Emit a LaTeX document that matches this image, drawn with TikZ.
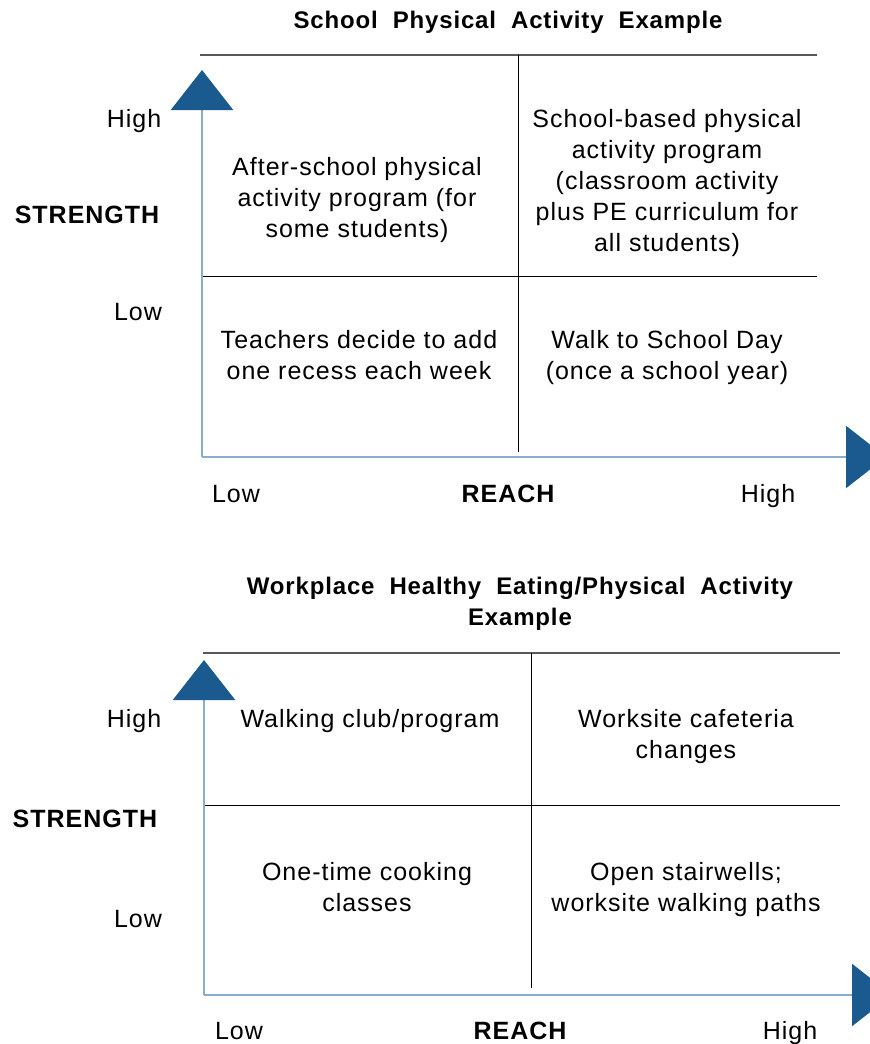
\documentclass[tikz,border=0pt]{standalone}
\usepackage{fontspec}
\setmainfont{Liberation Sans}[LetterSpace=4]
\newfontfamily\headfont{Liberation Sans}[LetterSpace=3.5,WordSpace=2.0]
\usepackage{xcolor}
\usetikzlibrary{arrows.meta}

\definecolor{axisline}{HTML}{8AAECA}
\definecolor{axishead}{HTML}{1B5A8E}

\begin{document}
\begin{tikzpicture}[x=0.5pt,y=-0.5pt,font=\fontsize{12.5}{15.5}\selectfont,
    every node/.style={inner sep=0pt,align=center}]
  \tikzstyle{axis}=[draw=axisline,line width=1.2pt,
    -{Triangle[width=31pt,length=20pt,color=axishead]}]
  \tikzstyle{grid}=[draw=black,line width=0.5pt]
  \tikzstyle{topline}=[draw=black!65,line width=1.1pt]
  \tikzstyle{title}=[font=\headfont\bfseries\fontsize{12}{15.5}\selectfont]
  \tikzstyle{axlabel}=[font=\bfseries\fontsize{12.5}{15.5}\selectfont]

  \useasboundingbox (0,0) rectangle (869,1044);

  % school chart
  \node[title] (title1) at (508,22) {School Physical Activity Example};
  \coordinate (o1) at (202,457);
  \coordinate (up1) at (202,70);
  \coordinate (right1) at (886,457);
  \draw[topline] (200,55) -- (817,55);
  \draw[grid] (202,276) -- (817,276);
  \draw[grid] (518,55) -- (518,452);
  \draw[axis] (o1) -- (up1);
  \draw[axis] (o1) -- (right1);

  \node (high1) at (134,121) {High};
  \node[axlabel] (strength1) at (87,215) {STRENGTH};
  \node (low1) at (138,312) {Low};
  \node (xlow1) at (236,494) {Low};
  \node[axlabel] (reach1) at (508,494) {REACH};
  \node (xhigh1) at (768,496) {High};

  \node (cellA) at (357,200) {After-school physical\\activity program (for\\some students)};
  \node (cellB) at (667,183) {School-based physical\\activity program\\(classroom activity\\plus PE curriculum for\\all students)};
  \node (cellC) at (359,355) {Teachers decide to add\\one recess each week};
  \node (cellD) at (667,358) {Walk to School Day\\(once a school year)};

  % workplace chart
  \node[title] (title2) at (520,604) {Workplace Healthy Eating/Physical Activity\\Example};
  \coordinate (o2) at (204,995);
  \coordinate (up2) at (204,660);
  \coordinate (right2) at (892,995);
  \draw[topline] (203,653) -- (840,653);
  \draw[grid] (204,805) -- (840,805);
  \draw[grid] (531,653) -- (531,988);
  \draw[axis] (o2) -- (up2);
  \draw[axis] (o2) -- (right2);

  \node (high2) at (134,721) {High};
  \node[axlabel] (strength2) at (85,819) {STRENGTH};
  \node (low2) at (138,919) {Low};
  \node (xlow2) at (239,1031) {Low};
  \node[axlabel] (reach2) at (520,1031) {REACH};
  \node (xhigh2) at (790,1033) {High};

  \node (cellE) at (370,721) {Walking club/program};
  \node (cellF) at (686,737) {Worksite cafeteria\\changes};
  \node (cellG) at (367,887) {One-time cooking\\classes};
  \node (cellH) at (686,890) {Open stairwells;\\worksite walking paths};
\end{tikzpicture}
\end{document}
